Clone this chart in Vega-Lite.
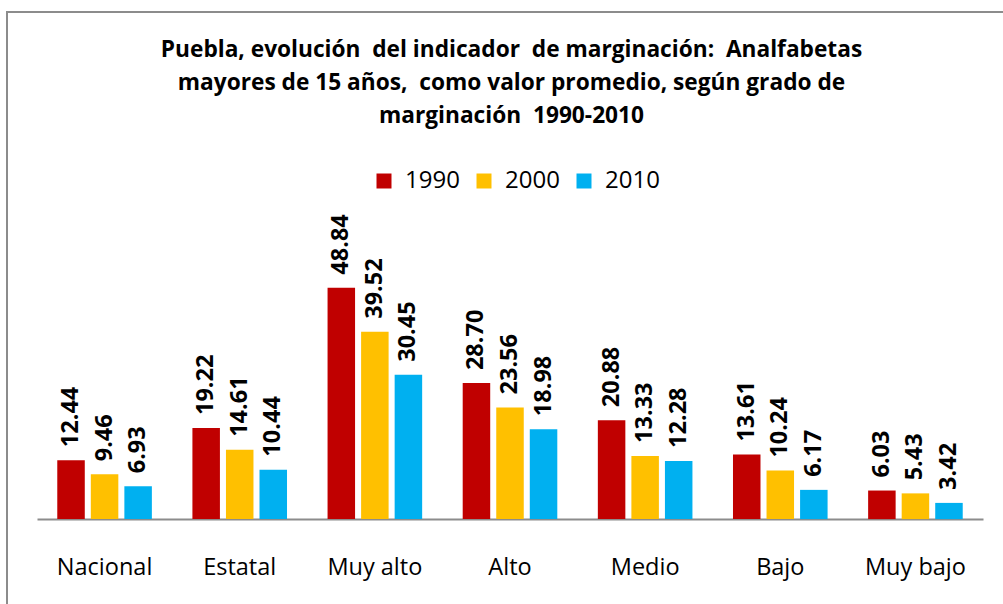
{
  "$schema": "https://vega.github.io/schema/vega-lite/v6.json",
  "width": 1003,
  "height": 600,
  "autosize": {"type": "none"},
  "padding": {"left": 7, "top": 12, "right": 0, "bottom": 0},
  "background": "white",
  "config": {"view": {"stroke": "#8c8c8c", "strokeWidth": 2}, "font": "Open Sans"},
  "title": {
    "text": ["Puebla, evolución \u00a0del indicador \u00a0de marginación: \u00a0Analfabetas", "mayores de 15 años, \u00a0como valor promedio, según grado de", "marginación \u00a01990-2010"],
    "fontSize": 22.7,
    "fontWeight": "bold",
    "color": "black",
    "lineHeight": 33,
    "anchor": "middle",
    "offset": -116,
    "dx": 3,
    "font": "Open Sans"
  },
  "data": {
    "values": [
      {"cat": "Nacional", "year": "1990", "value": 12.44},
      {"cat": "Nacional", "year": "2000", "value": 9.46},
      {"cat": "Nacional", "year": "2010", "value": 6.93},
      {"cat": "Estatal", "year": "1990", "value": 19.22},
      {"cat": "Estatal", "year": "2000", "value": 14.61},
      {"cat": "Estatal", "year": "2010", "value": 10.44},
      {"cat": "Muy alto", "year": "1990", "value": 48.84},
      {"cat": "Muy alto", "year": "2000", "value": 39.52},
      {"cat": "Muy alto", "year": "2010", "value": 30.45},
      {"cat": "Alto", "year": "1990", "value": 28.70},
      {"cat": "Alto", "year": "2000", "value": 23.56},
      {"cat": "Alto", "year": "2010", "value": 18.98},
      {"cat": "Medio", "year": "1990", "value": 20.88},
      {"cat": "Medio", "year": "2000", "value": 13.33},
      {"cat": "Medio", "year": "2010", "value": 12.28},
      {"cat": "Bajo", "year": "1990", "value": 13.61},
      {"cat": "Bajo", "year": "2000", "value": 10.24},
      {"cat": "Bajo", "year": "2010", "value": 6.17},
      {"cat": "Muy bajo", "year": "1990", "value": 6.03},
      {"cat": "Muy bajo", "year": "2000", "value": 5.43},
      {"cat": "Muy bajo", "year": "2010", "value": 3.42}
    ]
  },
  "encoding": {
    "x": {
      "field": "cat",
      "type": "nominal",
      "sort": ["Nacional", "Estatal", "Muy alto", "Alto", "Medio", "Bajo", "Muy bajo"],
      "scale": {"range": [30, 976], "paddingInner": 0.3, "paddingOuter": 0.15},
      "axis": {
        "title": null,
        "orient": "bottom",
        "offset": -93,
        "domainColor": "#8c8c8c",
        "domainWidth": 2,
        "ticks": false,
        "grid": false,
        "labelAngle": 0,
        "labelFontSize": 23.5,
        "labelPadding": 36,
        "labelColor": "black",
        "labelFont": "Open Sans"
      }
    },
    "xOffset": {"field": "year", "type": "nominal", "scale": {"paddingInner": 0.18}},
    "y": {
      "field": "value",
      "type": "quantitative",
      "scale": {"domain": [-19.6, 107], "nice": false, "zero": false},
      "axis": null
    }
  },
  "layer": [
    {
      "mark": {"type": "bar"},
      "encoding": {
        "y2": {"datum": 0},
        "color": {
          "field": "year",
          "type": "nominal",
          "scale": {"domain": ["1990", "2000", "2010"], "range": ["#C00000", "#FFC000", "#00B0F0"]},
          "legend": {
            "orient": "none",
            "legendX": 365,
            "legendY": 157,
            "direction": "horizontal",
            "title": null,
            "symbolType": "square",
            "symbolSize": 225,
            "symbolStrokeWidth": 0,
            "symbolOpacity": 1,
            "labelFontSize": 24,
            "labelFont": "Open Sans",
            "labelColor": "black",
            "labelOffset": 9,
            "columnPadding": 12,
            "padding": 0
          }
        }
      }
    },
    {
      "mark": {"type": "text", "angle": 270, "align": "left", "baseline": "middle", "dx": 13, "fontWeight": "bold", "fontSize": 23.5, "color": "black", "font": "Open Sans"},
      "encoding": {
        "text": {"field": "value", "type": "quantitative", "format": ".2f"}
      }
    }
  ]
}
